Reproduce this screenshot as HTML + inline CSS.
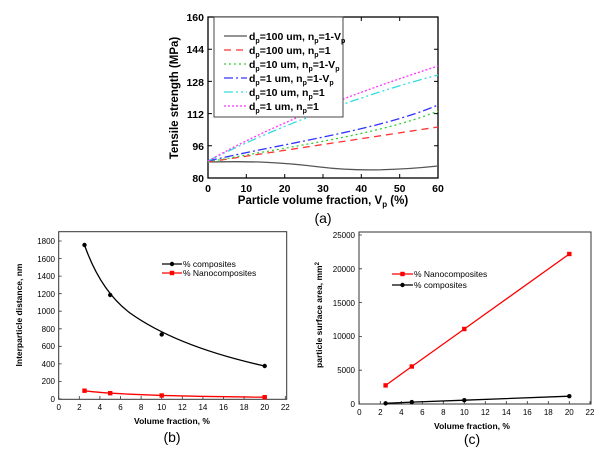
<!DOCTYPE html>
<html><head><meta charset="utf-8"><style>
body{margin:0;background:#fff}
svg{display:block;font-family:"Liberation Sans",Arial,sans-serif}
.b{font-weight:bold}
</style></head><body>
<svg width="614" height="459" viewBox="0 0 614 459" xmlns="http://www.w3.org/2000/svg">
<!-- Chart (a) -->
<g>
<rect x="208" y="17" width="230" height="161" fill="none" stroke="#000" stroke-width="1.3"/>
<g stroke="#000" stroke-width="1">
<path d="M208 178v-4M246.3 178v-4M284.7 178v-4M323 178v-4M361.3 178v-4M399.7 178v-4M438 178v-4"/>
<path d="M208 17v4M246.3 17v4M284.7 17v4M323 17v4M361.3 17v4M399.7 17v4M438 17v4"/>
<path d="M208 178h4M208 145.8h4M208 113.6h4M208 81.4h4M208 49.2h4M208 17h4"/>
<path d="M438 178h-4M438 145.8h-4M438 113.6h-4M438 81.4h-4M438 49.2h-4"/>
</g>
<g font-size="10.5" class="b" text-anchor="end">
<text x="204" y="182">80</text><text x="204" y="150">96</text><text x="204" y="118">112</text><text x="204" y="86">128</text><text x="204" y="53">144</text><text x="204" y="21">160</text>
</g>
<g font-size="10.5" class="b" text-anchor="middle">
<text x="208" y="192">0</text><text x="246.3" y="192">10</text><text x="284.7" y="192">20</text><text x="323" y="192">30</text><text x="361.3" y="192">40</text><text x="399.7" y="192">50</text><text x="438" y="192">60</text>
</g>
<text x="323" y="204" font-size="11.5" class="b" text-anchor="middle">Particle volume fraction, V<tspan font-size="8" dy="3">p</tspan><tspan dy="-3"> (%)</tspan></text>
<text transform="translate(178,98) rotate(-90)" font-size="11.5" class="b" text-anchor="middle">Tensile strength (MPa)</text>
<text x="323" y="223" font-size="14" text-anchor="middle">(a)</text>
<g fill="none" stroke-width="1.3">
<path d="M208 162 C250 161 280 162 320 167 S400 170 438 166" stroke="#555"/>
<path d="M208 162 L438 127" stroke="#f33" stroke-dasharray="7,5"/>
<path d="M208 162 C280 148 380 135 438 111" stroke="#3c3" stroke-dasharray="2,3"/>
<path d="M208 161 C280 144 380 130 438 105" stroke="#33f" stroke-dasharray="9,3,2,3"/>
<path d="M208 161 C290 120 380 90 438 75" stroke="#3dd" stroke-dasharray="9,3,2,3,2,3"/>
<path d="M208 161 C290 115 380 85 438 66" stroke="#f3f" stroke-dasharray="2,2"/>
</g>
<rect x="214" y="17" width="129" height="100" fill="#fff" stroke="#444" stroke-width="1"/>
<g stroke-width="1.3" fill="none">
<path d="M224 36h23" stroke="#555"/><path d="M224 50h23" stroke="#f33" stroke-dasharray="7,5"/>
<path d="M224 64h23" stroke="#3c3" stroke-dasharray="2,3"/><path d="M224 78h23" stroke="#33f" stroke-dasharray="9,3,2,3"/>
<path d="M224 92h23" stroke="#3dd" stroke-dasharray="9,3,2,3,2,3"/><path d="M224 106h23" stroke="#f3f" stroke-dasharray="2,2"/>
</g>
<g font-size="10.5" class="b">
<text x="249" y="40">d<tspan font-size="7" dy="3">p</tspan><tspan dy="-3">=100 um, n</tspan><tspan font-size="7" dy="3">p</tspan><tspan dy="-3">=1-V</tspan><tspan font-size="7" dy="3">p</tspan></text>
<text x="249" y="54">d<tspan font-size="7" dy="3">p</tspan><tspan dy="-3">=100 um, n</tspan><tspan font-size="7" dy="3">p</tspan><tspan dy="-3">=1</tspan></text>
<text x="249" y="68">d<tspan font-size="7" dy="3">p</tspan><tspan dy="-3">=10 um, n</tspan><tspan font-size="7" dy="3">p</tspan><tspan dy="-3">=1-V</tspan><tspan font-size="7" dy="3">p</tspan></text>
<text x="249" y="82">d<tspan font-size="7" dy="3">p</tspan><tspan dy="-3">=1 um, n</tspan><tspan font-size="7" dy="3">p</tspan><tspan dy="-3">=1-V</tspan><tspan font-size="7" dy="3">p</tspan></text>
<text x="249" y="96">d<tspan font-size="7" dy="3">p</tspan><tspan dy="-3">=10 um, n</tspan><tspan font-size="7" dy="3">p</tspan><tspan dy="-3">=1</tspan></text>
<text x="249" y="110">d<tspan font-size="7" dy="3">p</tspan><tspan dy="-3">=1 um, n</tspan><tspan font-size="7" dy="3">p</tspan><tspan dy="-3">=1</tspan></text>
</g>
</g>

<!-- Chart (b) -->
<g>
<rect x="58.7" y="231.7" width="228" height="167.6" fill="none" stroke="#333" stroke-width="1"/>
<g stroke="#333" stroke-width="0.8">
<path d="M58.7 399v-3M79.3 399v-3M99.9 399v-3M120.5 399v-3M141.1 399v-3M161.7 399v-3M182.3 399v-3M202.9 399v-3M223.5 399v-3M244.1 399v-3M264.7 399v-3M285.3 399v-3"/>
<path d="M58.7 399h3M58.7 381.4h3M58.7 363.9h3M58.7 346.3h3M58.7 328.8h3M58.7 311.2h3M58.7 293.7h3M58.7 276.1h3M58.7 258.6h3M58.7 241h3"/>
</g>
<g font-size="8" text-anchor="end">
<text x="55" y="402">0</text><text x="55" y="384">200</text><text x="55" y="367">400</text><text x="55" y="349">600</text><text x="55" y="332">800</text><text x="55" y="314">1000</text><text x="55" y="297">1200</text><text x="55" y="279">1400</text><text x="55" y="262">1600</text><text x="55" y="244">1800</text>
</g>
<g font-size="8" text-anchor="middle">
<text x="58.7" y="410">0</text><text x="79.3" y="410">2</text><text x="99.9" y="410">4</text><text x="120.5" y="410">6</text><text x="141.1" y="410">8</text><text x="161.7" y="410">10</text><text x="182.3" y="410">12</text><text x="202.9" y="410">14</text><text x="223.5" y="410">16</text><text x="244.1" y="410">18</text><text x="264.7" y="410">20</text><text x="285.3" y="410">22</text>
</g>
<text x="172" y="424" font-size="8.5" class="b" text-anchor="middle">Volume fraction, %</text>
<text transform="translate(22,315) rotate(-90)" font-size="8.5" class="b" text-anchor="middle">Interparticle distance, nm</text>
<text x="172" y="442" font-size="14" text-anchor="middle">(b)</text>
<path d="M84.5 245 C95 275 110 298 130 313 C165 338 215 355 264.7 366" fill="none" stroke="#000" stroke-width="1.3"/>
<g fill="#000"><circle cx="84.5" cy="245" r="2.2"/><circle cx="110.2" cy="295" r="2.2"/><circle cx="161.7" cy="334.5" r="2.2"/><circle cx="264.7" cy="366" r="2.2"/></g>
<path d="M84.5 390.7 C100 393 140 396 264.7 397.2" fill="none" stroke="#f00" stroke-width="1.3"/>
<g fill="#f00"><rect x="82.3" y="388.5" width="4.4" height="4.4"/><rect x="108" y="391" width="4.4" height="4.4"/><rect x="159.5" y="393.3" width="4.4" height="4.4"/><rect x="262.5" y="395" width="4.4" height="4.4"/></g>
<path d="M162 264h20" stroke="#000" stroke-width="1.3"/><circle cx="172" cy="264" r="2.2"/>
<path d="M162 273h20" stroke="#f00" stroke-width="1.3"/><rect x="169.8" y="270.8" width="4.4" height="4.4" fill="#f00"/>
<text x="183" y="267" font-size="8.5">% composites</text>
<text x="183" y="276" font-size="8.5">% Nanocomposites</text>
</g>

<!-- Chart (c) -->
<g>
<rect x="359" y="232" width="232" height="172" fill="none" stroke="#333" stroke-width="1"/>
<g stroke="#333" stroke-width="0.8">
<path d="M359.3 404v-3M380.3 404v-3M401.3 404v-3M422.3 404v-3M443.3 404v-3M464.3 404v-3M485.3 404v-3M506.3 404v-3M527.3 404v-3M548.3 404v-3M569.3 404v-3M590 404v-3"/>
<path d="M359 404h3M359 370.2h3M359 336.4h3M359 302.6h3M359 268.8h3M359 235h3"/>
</g>
<g font-size="8" text-anchor="end">
<text x="355" y="407">0</text><text x="355" y="373">5000</text><text x="355" y="339">10000</text><text x="355" y="306">15000</text><text x="355" y="272">20000</text><text x="355" y="238">25000</text>
</g>
<g font-size="8" text-anchor="middle">
<text x="359.3" y="415">0</text><text x="380.3" y="415">2</text><text x="401.3" y="415">4</text><text x="422.3" y="415">6</text><text x="443.3" y="415">8</text><text x="464.3" y="415">10</text><text x="485.3" y="415">12</text><text x="506.3" y="415">14</text><text x="527.3" y="415">16</text><text x="548.3" y="415">18</text><text x="569.3" y="415">20</text><text x="590" y="415">22</text>
</g>
<text x="472" y="429" font-size="8.5" class="b" text-anchor="middle">Volume fraction, %</text>
<text transform="translate(322,315) rotate(-90)" font-size="8.5" class="b" text-anchor="middle">particle surface area, mm<tspan font-size="6" dy="-3">2</tspan></text>
<text x="472" y="444" font-size="14" text-anchor="middle">(c)</text>
<path d="M385.6 385.4 L411.8 366.5 L464.3 329 L569.3 254" fill="none" stroke="#f00" stroke-width="1.3"/>
<g fill="#f00"><rect x="383.4" y="383.2" width="4.4" height="4.4"/><rect x="409.6" y="364.3" width="4.4" height="4.4"/><rect x="462.1" y="326.8" width="4.4" height="4.4"/><rect x="567.1" y="251.8" width="4.4" height="4.4"/></g>
<path d="M385.6 403.3 L411.8 402.1 L464.3 400.2 L569.3 396.2" fill="none" stroke="#000" stroke-width="1.3"/>
<g fill="#000"><circle cx="385.6" cy="403.3" r="2.2"/><circle cx="411.8" cy="402.1" r="2.2"/><circle cx="464.3" cy="400.2" r="2.2"/><circle cx="569.3" cy="396.2" r="2.2"/></g>
<path d="M392 274h21" stroke="#f00" stroke-width="1.3"/><rect x="400.3" y="271.8" width="4.4" height="4.4" fill="#f00"/>
<path d="M392 285h21" stroke="#000" stroke-width="1.3"/><circle cx="402.5" cy="285" r="2.2"/>
<text x="414" y="277" font-size="8.5">% Nanocomposites</text>
<text x="414" y="288" font-size="8.5">% composites</text>
</g>
</svg>
</body></html>
